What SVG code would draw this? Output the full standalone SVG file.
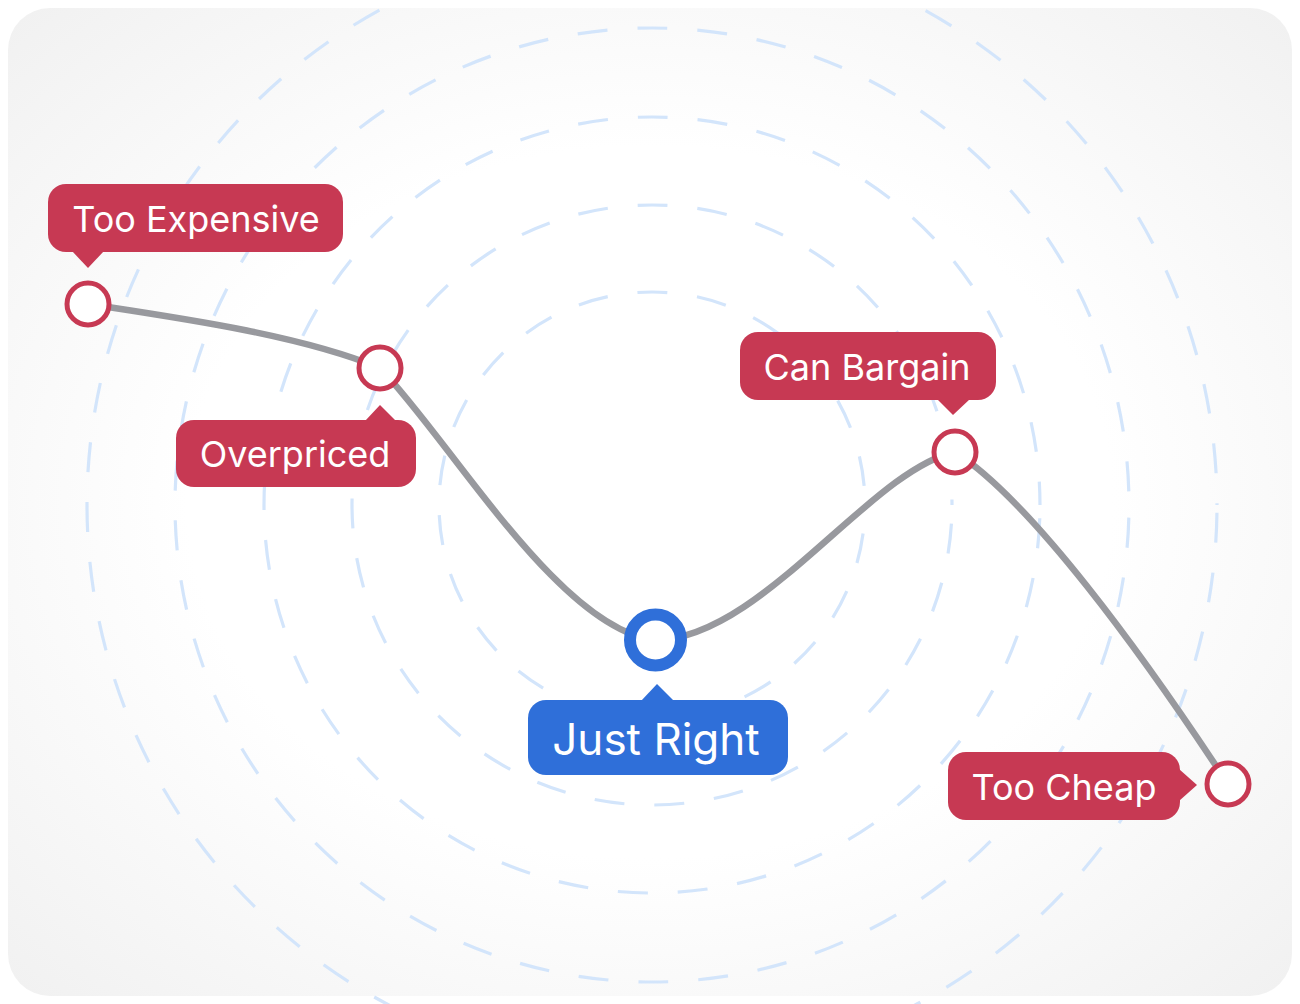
<svg xmlns="http://www.w3.org/2000/svg" width="1300" height="1004" viewBox="0 0 1300 1004">
  <defs>
    <radialGradient id="cardBg" cx="50%" cy="50%" r="72%">
      <stop offset="0" stop-color="#ffffff"/>
      <stop offset="0.5" stop-color="#ffffff"/>
      <stop offset="1" stop-color="#f0f0f0"/>
    </radialGradient>
  </defs>
  <style>
    .ring { fill: none; stroke: #d3e5fb; stroke-width: 3.2; stroke-dasharray: 30 30; }
    .curve { fill: none; stroke: #98999e; stroke-width: 6.5; stroke-linecap: round; stroke-linejoin: round; }
    .dot { fill: #ffffff; stroke: #c73953; stroke-width: 5; }
    .dot-main { fill: #ffffff; stroke: #2f6fd9; stroke-width: 12; }
    .tag { fill: #c73953; }
    .tag-main { fill: #2f6fd9; }
    .label { fill: #ffffff; font-family: Inter, "Liberation Sans", sans-serif; font-size: 36px; text-anchor: middle; }
    .label-main { font-size: 44px; }
  </style>

  <rect x="0" y="0" width="1300" height="1004" fill="#ffffff"/>
  <rect x="8" y="8" width="1284" height="988" rx="42" ry="42" fill="url(#cardBg)"/>

  <g id="rings">
    <circle class="ring" cx="652" cy="505" r="213" stroke-dashoffset="31.3"/>
    <circle class="ring" cx="652" cy="505" r="300" stroke-dashoffset="41.3"/>
    <circle class="ring" cx="652" cy="505" r="388" stroke-dashoffset="46.6"/>
    <circle class="ring" cx="652" cy="505" r="477" stroke-dashoffset="47.2"/>
    <circle class="ring" cx="652" cy="505" r="565" stroke-dashoffset="52.2"/>
  </g>

  <g id="connectors">
    <path class="curve" d="M88,304 C180,318 300,335 380,368 C450,440 560,630 655,640 C760,640 870,470 955,452 C1030,500 1140,650 1228,784"/>
  </g>

  <g id="too-expensive">
    <rect class="tag" x="48" y="184" width="295" height="68" rx="18"/>
    <path class="tag" d="M72,251 L88,268 L104,251 Z"/>
    <circle class="dot" cx="88" cy="304" r="21"/>
    <text class="label" x="196" y="232">Too Expensive</text>
  </g>

  <g id="overpriced">
    <rect class="tag" x="176" y="420" width="240" height="67" rx="18"/>
    <path class="tag" d="M365,421 L380,405 L396,421 Z"/>
    <circle class="dot" cx="380" cy="368" r="21"/>
    <text class="label" x="295" y="467">Overpriced</text>
  </g>

  <g id="just-right">
    <rect class="tag-main" x="528" y="700" width="260" height="75" rx="18"/>
    <path class="tag-main" d="M641,701 L657,684 L674,701 Z"/>
    <circle class="dot-main" cx="655.5" cy="640" r="25.5"/>
    <text class="label label-main" x="656" y="755">Just Right</text>
  </g>

  <g id="can-bargain">
    <rect class="tag" x="740" y="332" width="256" height="68" rx="18"/>
    <path class="tag" d="M937,399 L953,415 L970,399 Z"/>
    <circle class="dot" cx="955" cy="452" r="21"/>
    <text class="label" x="867" y="380">Can Bargain</text>
  </g>

  <g id="too-cheap">
    <rect class="tag" x="948" y="752" width="232" height="68" rx="18"/>
    <path class="tag" d="M1179,769 L1197,785 L1179,801 Z"/>
    <circle class="dot" cx="1228" cy="784" r="21"/>
    <text class="label" x="1064" y="800">Too Cheap</text>
  </g>
</svg>
